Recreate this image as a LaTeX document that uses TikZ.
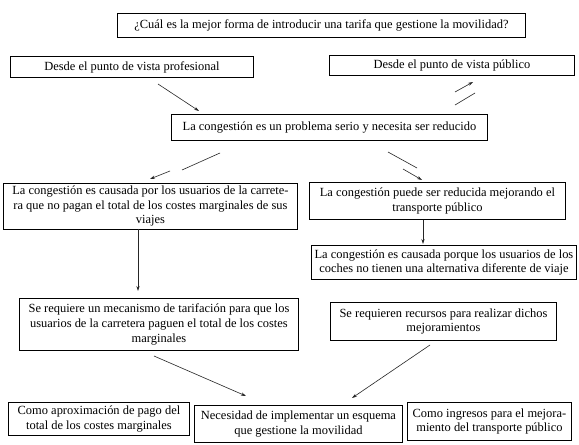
\documentclass[tikz,border=0pt]{standalone}
\usepackage{fontspec}
\setmainfont{Liberation Serif}
\usetikzlibrary{arrows.meta}
\begin{document}
\begin{tikzpicture}[x=1bp,y=-1bp,
  bx/.style={draw=black, line width=0.9bp, inner sep=0pt, align=center,
    font=\fontsize{12.5}{14.6}\selectfont, anchor=north west},
  con/.style={line width=0.6bp, draw=black!85},
  arr/.style={con, -{Stealth[length=5bp,width=3.2bp]}}]
\useasboundingbox[fill=white] (0,0) rectangle (579,445);
% boxes: (left,top) and size
\node[bx, minimum width=408bp, minimum height=24bp] (q) at (117,13)
  {¿Cuál es la mejor forma de introducir una tarifa que gestione la movilidad?};
\node[bx, minimum width=243bp, minimum height=21bp] (prof) at (10,56)
  {Desde el punto de vista profesional};
\node[bx, minimum width=245bp, minimum height=20bp] (pub) at (329,55)
  {Desde el punto de vista público};
\node[bx, minimum width=316bp, minimum height=26bp] (serio) at (171,114)
  {La congestión es un problema serio y necesita ser reducido};
\node[bx, minimum width=294bp, minimum height=46bp] (causa) at (3,183)
  {La congestión es causada por los usuarios de la carrete-\\ra que no pagan el total de los costes marginales de sus\\viajes};
\node[bx, minimum width=256bp, minimum height=37bp] (puede) at (309,182)
  {La congestión puede ser reducida mejorando el\\transporte público};
\node[bx, minimum width=265bp, minimum height=34bp] (coches) at (311,245)
  {La congestión es causada porque los usuarios de los\\coches no tienen una alternativa diferente de viaje};
\node[bx, minimum width=279bp, minimum height=52bp] (mec) at (19,298)
  {Se requiere un mecanismo de tarifación para que los\\usuarios de la carretera paguen el total de los costes\\marginales};
\node[bx, minimum width=226bp, minimum height=38bp] (rec) at (330,302)
  {Se requieren recursos para realizar dichos\\mejoramientos};
\node[bx, minimum width=181bp, minimum height=33bp] (aprox) at (8,402)
  {Como aproximación de pago del\\total de los costes marginales};
\node[bx, minimum width=208bp, minimum height=37bp] (nec) at (194,405)
  {Necesidad de implementar un esquema\\que gestione la movilidad};
\node[bx, minimum width=164bp, minimum height=38bp] (ing) at (407,402)
  {Como ingresos para el mejora-\\miento del transporte público};
% connector end points
\coordinate (p1) at (158,84);  \coordinate (p2) at (199,111);
\coordinate (u1) at (455,105); \coordinate (u2) at (475,93);
\coordinate (u3) at (455,92);  \coordinate (u4) at (473,82);
\coordinate (l1) at (220,153); \coordinate (l2) at (182,170);
\coordinate (l3) at (170,171); \coordinate (l4) at (150,179);
\coordinate (r1) at (388,152); \coordinate (r2) at (417,168);
\coordinate (r3) at (403,169); \coordinate (r4) at (422,180);
\coordinate (c1) at (138,229); \coordinate (c2) at (138,291);
\coordinate (d1) at (423,220); \coordinate (d2) at (423,244);
\coordinate (m1) at (154,356); \coordinate (m2) at (246,396);
\coordinate (s1) at (430,345); \coordinate (s2) at (352,398);
\draw[arr] (p1) -- (p2);
\draw[con] (u1) -- (u2);
\draw[arr] (u3) -- (u4);
\draw[con] (l1) -- (l2);
\draw[arr] (l3) -- (l4);
\draw[con] (r1) -- (r2);
\draw[arr] (r3) -- (r4);
\draw[arr] (c1) -- (c2);
\draw[arr] (d1) -- (d2);
\draw[arr] (m1) -- (m2);
\draw[arr] (s1) -- (s2);
\end{tikzpicture}
\end{document}
